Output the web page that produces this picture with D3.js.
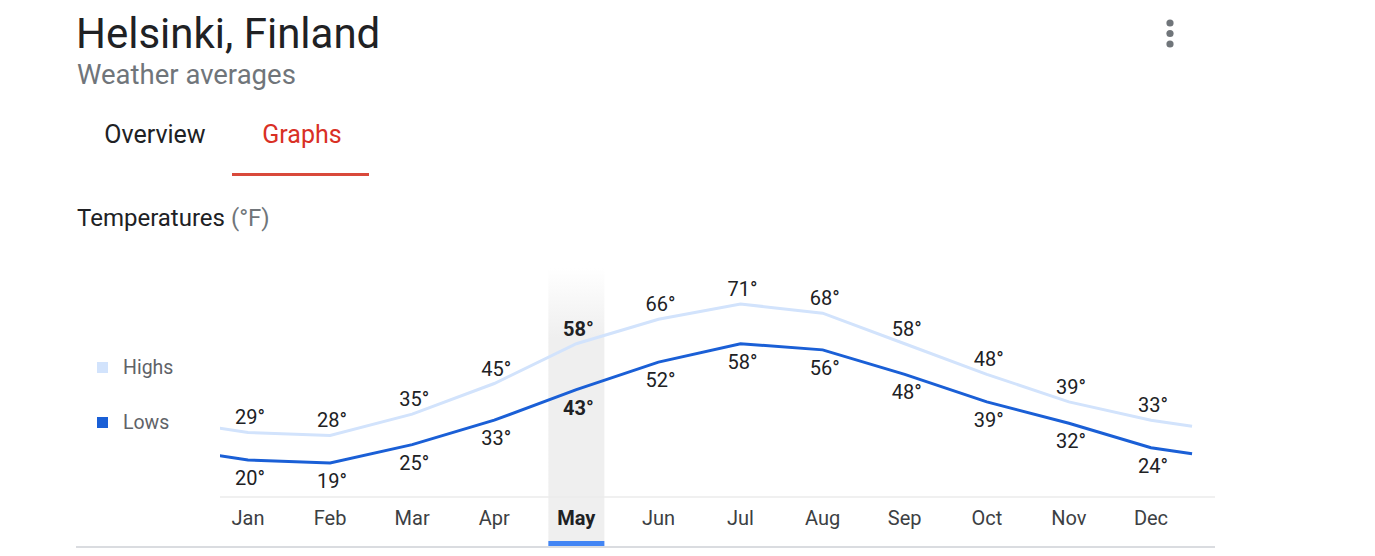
<!DOCTYPE html>
<html>
<head>
<meta charset="utf-8">
<script src="https://cdn.jsdelivr.net/npm/d3@7"></script>
<style>
  body { margin: 0; background: #fff; font-family: Roboto, Arial, sans-serif; }
</style>
</head>
<body>
<div id="chart"></div>
<script>
var w = 1375, h = 556;

// data
var months = ["Jan","Feb","Mar","Apr","May","Jun","Jul","Aug","Sep","Oct","Nov","Dec"];
var highs = [29, 28, 35, 45, 58, 66, 71, 68, 58, 48, 39, 33];
var lows  = [20, 19, 25, 33, 43, 52, 58, 56, 48, 39, 32, 24];
var selectedMonth = "May";

var highColor = "#d2e3fc", lowColor = "#1a5fd6";

var svg = d3.select("#chart").append("svg")
    .attr("width", w).attr("height", h);

// header
svg.append("text").attr("x", 76).attr("y", 48)
    .attr("font-size", "42px").attr("fill", "#202124")
    .text("Helsinki, Finland");
svg.append("text").attr("x", 77).attr("y", 84)
    .attr("font-size", "27.5px").attr("fill", "#70757a")
    .text("Weather averages");

// tabs
svg.append("text").attr("x", 155).attr("y", 143)
    .attr("text-anchor", "middle").attr("font-size", "25px").attr("fill", "#202124")
    .text("Overview");
svg.append("text").attr("x", 302).attr("y", 143)
    .attr("text-anchor", "middle").attr("font-size", "25px").attr("fill", "#d93025")
    .text("Graphs");
svg.append("rect").attr("x", 232).attr("y", 173).attr("width", 137).attr("height", 3)
    .attr("fill", "#d9493b");

// kebab menu
svg.selectAll("circle.menu").data([23, 33.5, 44]).enter().append("circle")
    .attr("class", "menu").attr("cx", 1170).attr("cy", function(d) { return d; })
    .attr("r", 3.6).attr("fill", "#70757a");

// section title
var t = svg.append("text").attr("x", 77).attr("y", 226)
    .attr("font-size", "24px").attr("fill", "#202124");
t.append("tspan").text("Temperatures ");
t.append("tspan").attr("fill", "#70757a").text("(°F)");

// legend
var legend = svg.append("g").attr("class", "legend");
[["Highs", highColor, 367], ["Lows", lowColor, 422]].forEach(function(d) {
    legend.append("rect").attr("x", 97).attr("y", d[2] - 5).attr("width", 11).attr("height", 11)
        .attr("fill", d[1]);
    legend.append("text").attr("x", 123).attr("y", d[2])
        .attr("dominant-baseline", "central").attr("font-size", "19.5px").attr("fill", "#5f6368")
        .text(d[0]);
});

// scales
var xScale = d3.scalePoint().domain(months).range([248, 1151]);
var step = xScale.step();
var yScale = d3.scaleLinear().domain([19, 71]).range([463, 304]);

var plotLeft = 220, plotRight = 1215, axisY = 497;

// highlight band for selected month
var defs = svg.append("defs");
var grad = defs.append("linearGradient").attr("id", "bandGrad")
    .attr("x1", 0).attr("y1", 0).attr("x2", 0).attr("y2", 1);
grad.append("stop").attr("offset", "0%").attr("stop-color", "#efefef").attr("stop-opacity", 0);
grad.append("stop").attr("offset", "25%").attr("stop-color", "#efefef").attr("stop-opacity", 1);
grad.append("stop").attr("offset", "100%").attr("stop-color", "#efefef").attr("stop-opacity", 1);
svg.append("rect")
    .attr("x", xScale(selectedMonth) - 28).attr("y", 268)
    .attr("width", 56).attr("height", 546 - 268)
    .attr("fill", "url(#bandGrad)");

// axis line
svg.append("line").attr("x1", plotLeft).attr("x2", plotRight)
    .attr("y1", axisY).attr("y2", axisY)
    .attr("stroke", "#ebebeb").attr("stroke-width", 1.5);

// bottom divider + selection marker
svg.append("line").attr("x1", 76).attr("x2", plotRight)
    .attr("y1", 547).attr("y2", 547)
    .attr("stroke", "#dadce0").attr("stroke-width", 2);
svg.append("rect").attr("x", xScale(selectedMonth) - 28).attr("y", 541)
    .attr("width", 56).attr("height", 5).attr("fill", "#4285f4");

// clip for lines
defs.append("clipPath").attr("id", "plotClip").append("rect")
    .attr("x", plotLeft).attr("y", 250).attr("width", plotRight - plotLeft).attr("height", 240);

// series points, extended half a step on each side with wrap-around values
function seriesPoints(vals) {
    var n = vals.length;
    var edge = (vals[0] + vals[n - 1]) / 2;
    var pts = [[xScale(months[0]) - step / 2, edge]];
    vals.forEach(function(v, i) { pts.push([xScale(months[i]), v]); });
    pts.push([xScale(months[n - 1]) + step / 2, edge]);
    return pts;
}

var line = d3.line()
    .x(function(d) { return d[0]; })
    .y(function(d) { return yScale(d[1]); });

var lines = svg.append("g").attr("clip-path", "url(#plotClip)");
lines.append("path").datum(seriesPoints(highs))
    .attr("d", line).attr("fill", "none")
    .attr("stroke", highColor).attr("stroke-width", 3);
lines.append("path").datum(seriesPoints(lows))
    .attr("d", line).attr("fill", "none")
    .attr("stroke", lowColor).attr("stroke-width", 3);

// value labels
svg.append("g").selectAll("text").data(highs).enter().append("text")
    .attr("x", function(d, i) { return xScale(months[i]) + 2; })
    .attr("y", function(d) { return yScale(d) - 15; })
    .attr("text-anchor", "middle").attr("dominant-baseline", "central")
    .attr("font-size", "20px").attr("fill", "#202124")
    .attr("font-weight", function(d, i) { return months[i] === selectedMonth ? "bold" : "normal"; })
    .text(function(d) { return d + "°"; });

svg.append("g").selectAll("text").data(lows).enter().append("text")
    .attr("x", function(d, i) { return xScale(months[i]) + 2; })
    .attr("y", function(d) { return yScale(d) + 18; })
    .attr("text-anchor", "middle").attr("dominant-baseline", "central")
    .attr("font-size", "20px").attr("fill", "#202124")
    .attr("font-weight", function(d, i) { return months[i] === selectedMonth ? "bold" : "normal"; })
    .text(function(d) { return d + "°"; });

// month labels
svg.append("g").selectAll("text").data(months).enter().append("text")
    .attr("x", function(d) { return xScale(d); })
    .attr("y", 518)
    .attr("text-anchor", "middle").attr("dominant-baseline", "central")
    .attr("font-size", "20px")
    .attr("fill", function(d) { return d === selectedMonth ? "#202124" : "#3c4043"; })
    .attr("font-weight", function(d) { return d === selectedMonth ? "bold" : "normal"; })
    .text(function(d) { return d; });
</script>
</body>
</html>
